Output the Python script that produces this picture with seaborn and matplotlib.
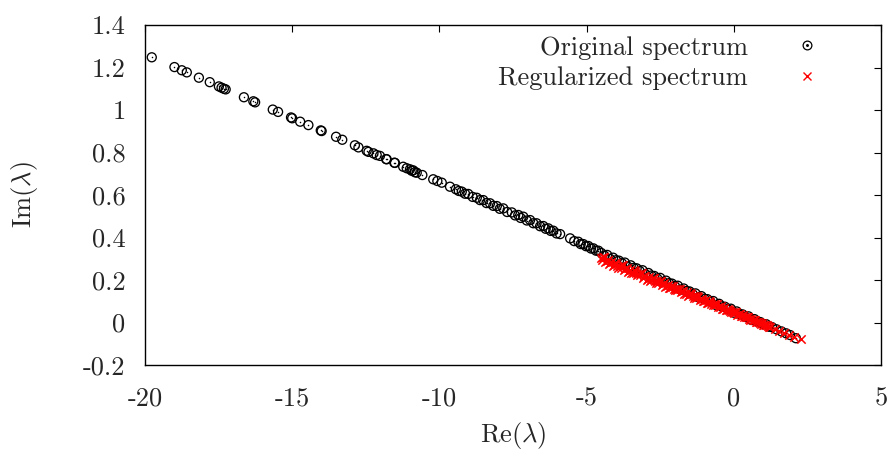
import matplotlib
matplotlib.use("Agg")
import matplotlib.pyplot as plt
import seaborn as sns
import pandas as pd
from matplotlib.lines import Line2D
from matplotlib.legend_handler import HandlerTuple
from matplotlib.ticker import FixedLocator, FixedFormatter

# ---- data ----
orig_re = [-19.77, -19.00, -18.75, -18.58, -18.17, -17.80, -17.49, -17.40, -17.32, -17.26,
           -16.64, -16.32, -16.26, -15.66, -15.48, -15.04, -15.00, -14.73, -14.45, -14.03,
           -14.00, -13.51, -13.30, -12.87, -12.75, -12.47, -12.41, -12.24, -12.13, -12.02,
           -11.81, -11.79, -11.53, -11.51, -11.23, -11.11, -11.00, -10.94, -10.89, -10.83,
           -10.77, -10.58, -10.21, -10.07, -9.92, -9.64, -9.44, -9.34, -9.24, -9.13,
           -9.02, -8.87, -8.73, -8.62, -8.51, -8.40, -8.28, -8.17, -8.05, -7.95,
           -7.83, -7.70, -7.54, -7.43, -7.32, -7.24, -7.15, -7.03, -6.92, -6.81,
           -6.70, -6.58, -6.47, -6.39, -6.30, -6.22, -6.13, -6.02, -5.90, -5.56,
           -5.42, -5.28, -5.20, -5.11, -5.02, -4.94, -4.85, -4.77, -4.68, -4.60,
           -4.50, -4.40, -4.30, -4.20, -4.10, -4.00, -3.90, -3.80, -3.70, -3.60,
           -3.50, -3.40, -3.30, -3.20, -3.10, -3.00, -2.90, -2.80, -2.70, -2.60,
           -2.50, -2.40, -2.30, -2.20, -2.10, -2.00, -1.90, -1.80, -1.70, -1.60,
           -1.50, -1.40, -1.30, -1.20, -1.10, -1.00, -0.90, -0.80, -0.70, -0.60,
           -0.50, -0.40, -0.30, -0.20, -0.10, 0.00, 0.10, 0.20, 0.30, 0.40,
           0.50, 0.60, 0.70, 0.80, 0.90, 1.00, 1.10, 1.20, 1.30, 1.45,
           1.62, 1.78, 1.91, 2.11]
orig_im = [1.248, 1.202, 1.187, 1.177, 1.152, 1.131, 1.111, 1.105, 1.100, 1.097,
           1.060, 1.041, 1.036, 1.002, 0.991, 0.965, 0.961, 0.945, 0.929, 0.904,
           0.901, 0.874, 0.860, 0.834, 0.824, 0.808, 0.803, 0.796, 0.788, 0.784,
           0.769, 0.768, 0.752, 0.751, 0.733, 0.726, 0.721, 0.714, 0.716, 0.707,
           0.705, 0.694, 0.674, 0.666, 0.658, 0.639, 0.627, 0.619, 0.616, 0.606,
           0.605, 0.591, 0.587, 0.576, 0.576, 0.562, 0.561, 0.549, 0.548, 0.535,
           0.537, 0.520, 0.518, 0.504, 0.506, 0.492, 0.498, 0.480, 0.482, 0.467,
           0.467, 0.453, 0.454, 0.441, 0.443, 0.431, 0.432, 0.419, 0.416, 0.396,
           0.383, 0.380, 0.369, 0.369, 0.359, 0.360, 0.348, 0.349, 0.338, 0.338,
           0.327, 0.315, 0.318, 0.299, 0.305, 0.293, 0.291, 0.279, 0.282, 0.263,
           0.269, 0.257, 0.255, 0.243, 0.246, 0.227, 0.233, 0.221, 0.219, 0.207,
           0.210, 0.191, 0.197, 0.185, 0.183, 0.171, 0.173, 0.154, 0.160, 0.148,
           0.146, 0.134, 0.137, 0.118, 0.124, 0.112, 0.110, 0.098, 0.101, 0.082,
           0.088, 0.076, 0.074, 0.062, 0.065, 0.046, 0.052, 0.040, 0.038, 0.026,
           0.029, 0.012, 0.016, 0.004, 0.002, -0.008, -0.008, -0.020, -0.022, -0.032,
           -0.042, -0.051, -0.059, -0.074]

reg_re = [-4.52, -4.44, -4.36, -4.28, -4.20, -4.12, -4.04, -3.96, -3.88, -3.80,
          -3.72, -3.64, -3.56, -3.48, -3.40, -3.32, -3.24, -3.16, -3.08, -3.00,
          -2.92, -2.84, -2.76, -2.68, -2.60, -2.52, -2.44, -2.36, -2.28, -2.20,
          -2.12, -2.04, -1.96, -1.88, -1.80, -1.72, -1.64, -1.56, -1.48, -1.40,
          -1.32, -1.24, -1.16, -1.08, -1.00, -0.92, -0.84, -0.76, -0.68, -0.60,
          -0.52, -0.44, -0.36, -0.28, -0.20, -0.12, -0.04, 0.04, 0.12, 0.20,
          0.28, 0.36, 0.44, 0.52, 0.60, 0.68, 0.76, 0.84, 0.92, 1.00,
          1.08, 1.16, 1.24, 1.40, 1.55, 1.72, 1.88, 2.05, 2.27,
          -4.48, -4.40, -4.32, -4.24, -4.16, -4.08, -4.00, -3.92, -3.84, -3.76,
          -3.68, -3.60, -3.52, -3.44, -3.36, -3.28, -3.20, -3.12, -3.04, -2.96,
          -2.88, -2.80, -2.72, -2.64, -2.56, -2.48, -2.40, -2.32, -2.24, -2.16,
          -2.08, -2.00, -1.92, -1.84, -1.76, -1.68, -1.60, -1.52, -1.44, -1.36,
          -1.28, -1.20, -1.12, -1.04, -0.96, -0.88, -0.80, -0.72, -0.64, -0.56,
          -0.48, -0.40, -0.32, -0.24, -0.16, -0.08, 0.00, 0.08, 0.16, 0.24,
          0.32, 0.40, 0.48, 0.56, 0.64, 0.72, 0.80, 0.88, 0.96, 1.04,
          1.12, 1.20]
reg_im = [0.302, 0.306, 0.283, 0.293, 0.278, 0.268, 0.281, 0.268, 0.266, 0.270,
          0.247, 0.257, 0.242, 0.232, 0.245, 0.232, 0.230, 0.234, 0.211, 0.221,
          0.206, 0.196, 0.209, 0.196, 0.194, 0.197, 0.177, 0.185, 0.172, 0.162,
          0.173, 0.160, 0.159, 0.160, 0.142, 0.148, 0.136, 0.127, 0.137, 0.124,
          0.123, 0.124, 0.107, 0.112, 0.101, 0.092, 0.100, 0.089, 0.087, 0.088,
          0.072, 0.077, 0.065, 0.058, 0.064, 0.054, 0.051, 0.051, 0.037, 0.040,
          0.030, 0.024, 0.027, 0.018, 0.015, 0.014, 0.002, 0.004, -0.005, -0.010,
          -0.010, -0.016, -0.023, -0.031, -0.038, -0.050, -0.058, -0.066, -0.078,
          0.294, 0.306, 0.289, 0.273, 0.285, 0.270, 0.280, 0.258, 0.258, 0.270,
          0.253, 0.237, 0.249, 0.234, 0.244, 0.222, 0.222, 0.234, 0.217, 0.201,
          0.214, 0.198, 0.209, 0.186, 0.187, 0.197, 0.182, 0.167, 0.178, 0.163,
          0.172, 0.151, 0.152, 0.160, 0.146, 0.133, 0.142, 0.128, 0.135, 0.116,
          0.117, 0.122, 0.111, 0.099, 0.105, 0.094, 0.098, 0.083, 0.081, 0.086,
          0.075, 0.065, 0.069, 0.059, 0.061, 0.048, 0.046, 0.049, 0.039, 0.031,
          0.033, 0.024, 0.024, 0.013, 0.011, 0.012, 0.003, -0.004, -0.004, -0.012,
          -0.012, -0.021]

x_ticks = [-20, -15, -10, -5, 0, 5]
x_tick_labels = ["-20", "-15", "-10", "-5", "0", "5"]
y_ticks = [-0.2, 0.0, 0.2, 0.4, 0.6, 0.8, 1.0, 1.2, 1.4]
y_tick_labels = ["-0.2", "0", "0.2", "0.4", "0.6", "0.8", "1", "1.2", "1.4"]
series_labels = ["Original spectrum", "Regularized spectrum"]
x_label = r"Re($\lambda$)"
y_label = r"Im($\lambda$)"

# ---- style ----
FS = 19
sns.set_theme(style="white")
plt.rcParams.update({
    "font.family": "cmr10",
    "mathtext.fontset": "cm",
    "axes.unicode_minus": False,
    "axes.formatter.use_mathtext": True,
    "font.size": FS,
})

fig = plt.figure(figsize=(8.94, 4.51), dpi=100)
ax = fig.add_axes([145 / 894, 86 / 451, 736 / 894, 340 / 451])

orig = pd.DataFrame({"re": orig_re, "im": orig_im})
reg = pd.DataFrame({"re": reg_re, "im": reg_im})

sns.scatterplot(data=orig, x="re", y="im", marker="o", s=42, facecolor="none",
                edgecolor="black", linewidth=0.95, ax=ax, zorder=2)
sns.scatterplot(data=orig, x="re", y="im", marker="o", s=1.2, color="black",
                linewidth=0, ax=ax, zorder=2)
sns.scatterplot(data=reg, x="re", y="im", marker="x", s=36, color="red",
                linewidth=1.1, ax=ax, zorder=3)

ax.set_xlim(-20, 5)
ax.set_ylim(-0.2, 1.4)
ax.xaxis.set_major_locator(FixedLocator(x_ticks))
ax.xaxis.set_major_formatter(FixedFormatter(x_tick_labels))
ax.yaxis.set_major_locator(FixedLocator(y_ticks))
ax.yaxis.set_major_formatter(FixedFormatter(y_tick_labels))
ax.tick_params(axis="both", which="major", direction="in", length=5, width=0.8,
               top=True, right=True, labelsize=FS, color="black")
ax.tick_params(axis="x", pad=16)
ax.tick_params(axis="y", pad=14)
for sp in ax.spines.values():
    sp.set_visible(True)
    sp.set_color("black")
    sp.set_linewidth(1.0)

ax.set_xlabel(x_label, fontsize=FS)
ax.set_ylabel(y_label, fontsize=FS)
ax.xaxis.set_label_coords(0.5, -0.163)
ax.yaxis.set_label_coords(-0.143, 0.5)

h1 = (Line2D([], [], marker="o", ls="none", mfc="none", mec="black", ms=6.3, mew=0.9),
      Line2D([], [], marker="o", ls="none", color="black", ms=1.1))
h2 = Line2D([], [], marker="x", ls="none", color="red", ms=5.5, mew=1.0)
leg = ax.legend([h1, h2], series_labels, loc="upper right",
                bbox_to_anchor=(0.9348, 0.968), markerfirst=False,
                frameon=False, handler_map={tuple: HandlerTuple(ndivide=1)},
                fontsize=FS, handlelength=2.0, handletextpad=1.23,
                borderpad=0.0, borderaxespad=0.0, labelspacing=0.25)

fig.savefig("out.png", dpi=100)
